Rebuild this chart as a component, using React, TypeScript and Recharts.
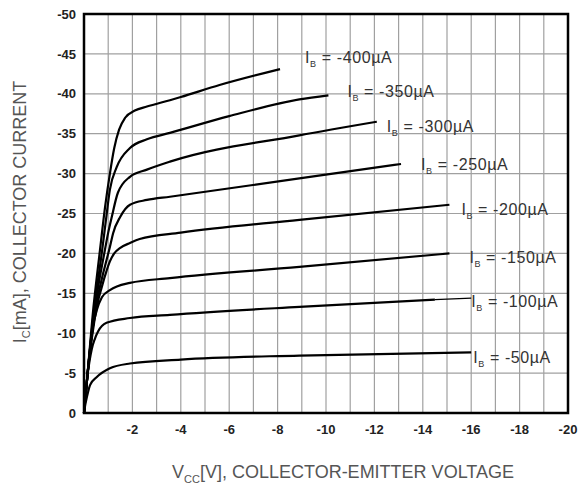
import { LineChart, Line, XAxis, YAxis, CartesianGrid, ReferenceArea } from 'recharts';

// V_CE [V] and I_C [mA], one pair of arrays per base current
const ib400V = [0, -0.15, -0.35, -0.66, -0.87, -1.07, -1.25, -1.45, -1.7, -2.1, -2.6, -3.55, -4, -5.6, -8.1];
const ib400I = [0, -5, -12, -20.4, -25.8, -30, -33.2, -35.5, -37, -37.9, -38.4, -39.2, -39.6, -41.1, -43.1];
const ib350V = [0, -0.15, -0.38, -0.75, -0.9, -1.07, -1.35, -1.9, -2.6, -3.55, -6, -8.9, -10.1];
const ib350I = [0, -5, -12, -20.4, -24, -28, -30.8, -33.2, -34.3, -35.1, -37.2, -39.3, -39.8];
const ib300V = [0, -0.15, -0.4, -0.85, -1.0, -1.15, -1.4, -1.9, -2.6, -3.55, -8.9, -12.1];
const ib300I = [0, -5, -12, -20.2, -22.6, -24.6, -27.6, -29.6, -30.5, -31.5, -34.8, -36.5];
const ib250V = [0, -0.15, -0.42, -0.9, -1.07, -1.2, -1.5, -1.9, -2.6, -3.55, -8.9, -13.1];
const ib250I = [0, -5, -12, -18.8, -20.8, -22.5, -24.6, -26.1, -26.7, -27.1, -29.4, -31.2];
const ib200V = [0, -0.15, -0.45, -0.9, -1.07, -1.25, -1.5, -1.9, -2.3, -4, -8.9, -15.1];
const ib200I = [0, -5, -12, -17.5, -19, -20, -20.7, -21.3, -21.8, -22.6, -24.2, -26.1];
const ib150V = [0, -0.15, -0.35, -0.53, -0.74, -1.07, -1.9, -3.55, -8.9, -15.1];
const ib150I = [0, -5, -10.5, -12.9, -14.5, -15.4, -16.3, -16.9, -18.3, -20];
const ib100V = [0, -0.15, -0.32, -0.45, -0.58, -0.93, -1.9, -3.55, -8.9, -14.5];
const ib100I = [0, -4.8, -8, -9.3, -10.2, -11.3, -11.9, -12.3, -13.3, -14.2];
const ib100TailV = [-14.5, -16];
const ib100TailI = [-14.2, -14.4];
const ib50V = [0, -0.05, -0.12, -0.25, -0.53, -1.07, -1.9, -4, -8.9, -16];
const ib50I = [0, -1, -2, -3.5, -4.5, -5.6, -6.2, -6.7, -7.2, -7.6];

const xTicks = [0, -1, -2, -3, -4, -5, -6, -7, -8, -9, -10, -11, -12, -13, -14, -15, -16, -17, -18, -19, -20];
const yTicks = [0, -5, -10, -15, -20, -25, -30, -35, -40, -45, -50];

const FONT = '"Liberation Sans", Arial, sans-serif';

// name shown in the label, or '' for no label; dx/dy = label offset from curve end
const curves = [
  { name: '-400', v: ib400V, i: ib400I, w: 2.2, dx: 25, dy: -11 },
  { name: '-350', v: ib350V, i: ib350I, w: 2.2, dx: 19, dy: -3 },
  { name: '-300', v: ib300V, i: ib300I, w: 2.2, dx: 10, dy: 5 },
  { name: '-250', v: ib250V, i: ib250I, w: 2.2, dx: 20, dy: 1 },
  { name: '-200', v: ib200V, i: ib200I, w: 2.2, dx: 12, dy: 5 },
  { name: '-150', v: ib150V, i: ib150I, w: 2.2, dx: 20, dy: 5 },
  { name: '', v: ib100V, i: ib100I, w: 2.2, dx: 0, dy: 0 },
  { name: '-100', v: ib100TailV, i: ib100TailI, w: 1.2, dx: 0, dy: 4 },
  { name: '-50', v: ib50V, i: ib50I, w: 2.2, dx: 2, dy: 6 },
];

function makeLabel(name: string, last: number, dx: number, dy: number) {
  return (props: any) => {
    if (!name || props.index !== last) return <g />;
    const x = props.x + dx;
    const y = props.y + dy + 5;
    return (
      <text x={x} y={y} fontFamily={FONT} fontSize={16} letterSpacing={0.6} fill="#333">
        I
        <tspan dy={4} fontSize={9}>B</tspan>
        <tspan dy={-4}>{` = ${name}\u00b5A`}</tspan>
      </text>
    );
  };
}

export default function App() {
  return (
    <div style={{ position: 'absolute', left: 0, top: 0, width: 581, height: 488, background: '#fff' }}>
      <LineChart width={581} height={488} margin={{ top: 14, right: 13, left: 34, bottom: 45 }}>
        <CartesianGrid stroke="#a0a0a0" strokeWidth={1.2} />
        <XAxis
          type="number"
          dataKey="v"
          domain={[-20, 0]}
          reversed
          ticks={xTicks}
          interval={0}
          tickFormatter={(t: number) => (t !== 0 && t % 2 === 0 ? String(t) : '')}
          axisLine={false}
          tickLine={false}
          tickMargin={6}
          height={30}
          tick={{ fontSize: 13, fontWeight: 'bold', fill: '#222', fontFamily: FONT }}
        />
        <YAxis
          type="number"
          dataKey="i"
          domain={[-50, 0]}
          reversed
          ticks={yTicks}
          interval={0}
          axisLine={false}
          tickLine={false}
          width={50}
          tick={{ fontSize: 13, fontWeight: 'bold', fill: '#222', fontFamily: FONT }}
        />
        <ReferenceArea
          x1={-20}
          x2={0}
          y1={-50}
          y2={0}
          fill="none"
          stroke="#000"
          strokeWidth={2.5}
          ifOverflow="visible"
        />
        {curves.map((c, k) => {
          const data = c.v.map((v, j) => ({ v, i: c.i[j] }));
          return (
            <Line
              key={k}
              data={data}
              dataKey="i"
              type="monotone"
              stroke="#000"
              strokeWidth={c.w}
              dot={false}
              isAnimationActive={false}
              label={makeLabel(c.name, data.length - 1, c.dx, c.dy)}
            />
          );
        })}
      </LineChart>
      <div
        style={{
          position: 'absolute',
          left: 343,
          top: 462,
          transform: 'translateX(-50%)',
          fontFamily: FONT,
          fontSize: 18,
          color: '#555',
          whiteSpace: 'nowrap',
        }}
      >
        V<sub style={{ fontSize: 11 }}>CC</sub>[V], COLLECTOR-EMITTER VOLTAGE
      </div>
      <div
        style={{
          position: 'absolute',
          left: 21,
          top: 212,
          transform: 'translate(-50%, -50%) rotate(-90deg)',
          fontFamily: FONT,
          fontSize: 18,
          color: '#555',
          whiteSpace: 'nowrap',
        }}
      >
        I<sub style={{ fontSize: 11 }}>C</sub>[mA], COLLECTOR CURRENT
      </div>
    </div>
  );
}
